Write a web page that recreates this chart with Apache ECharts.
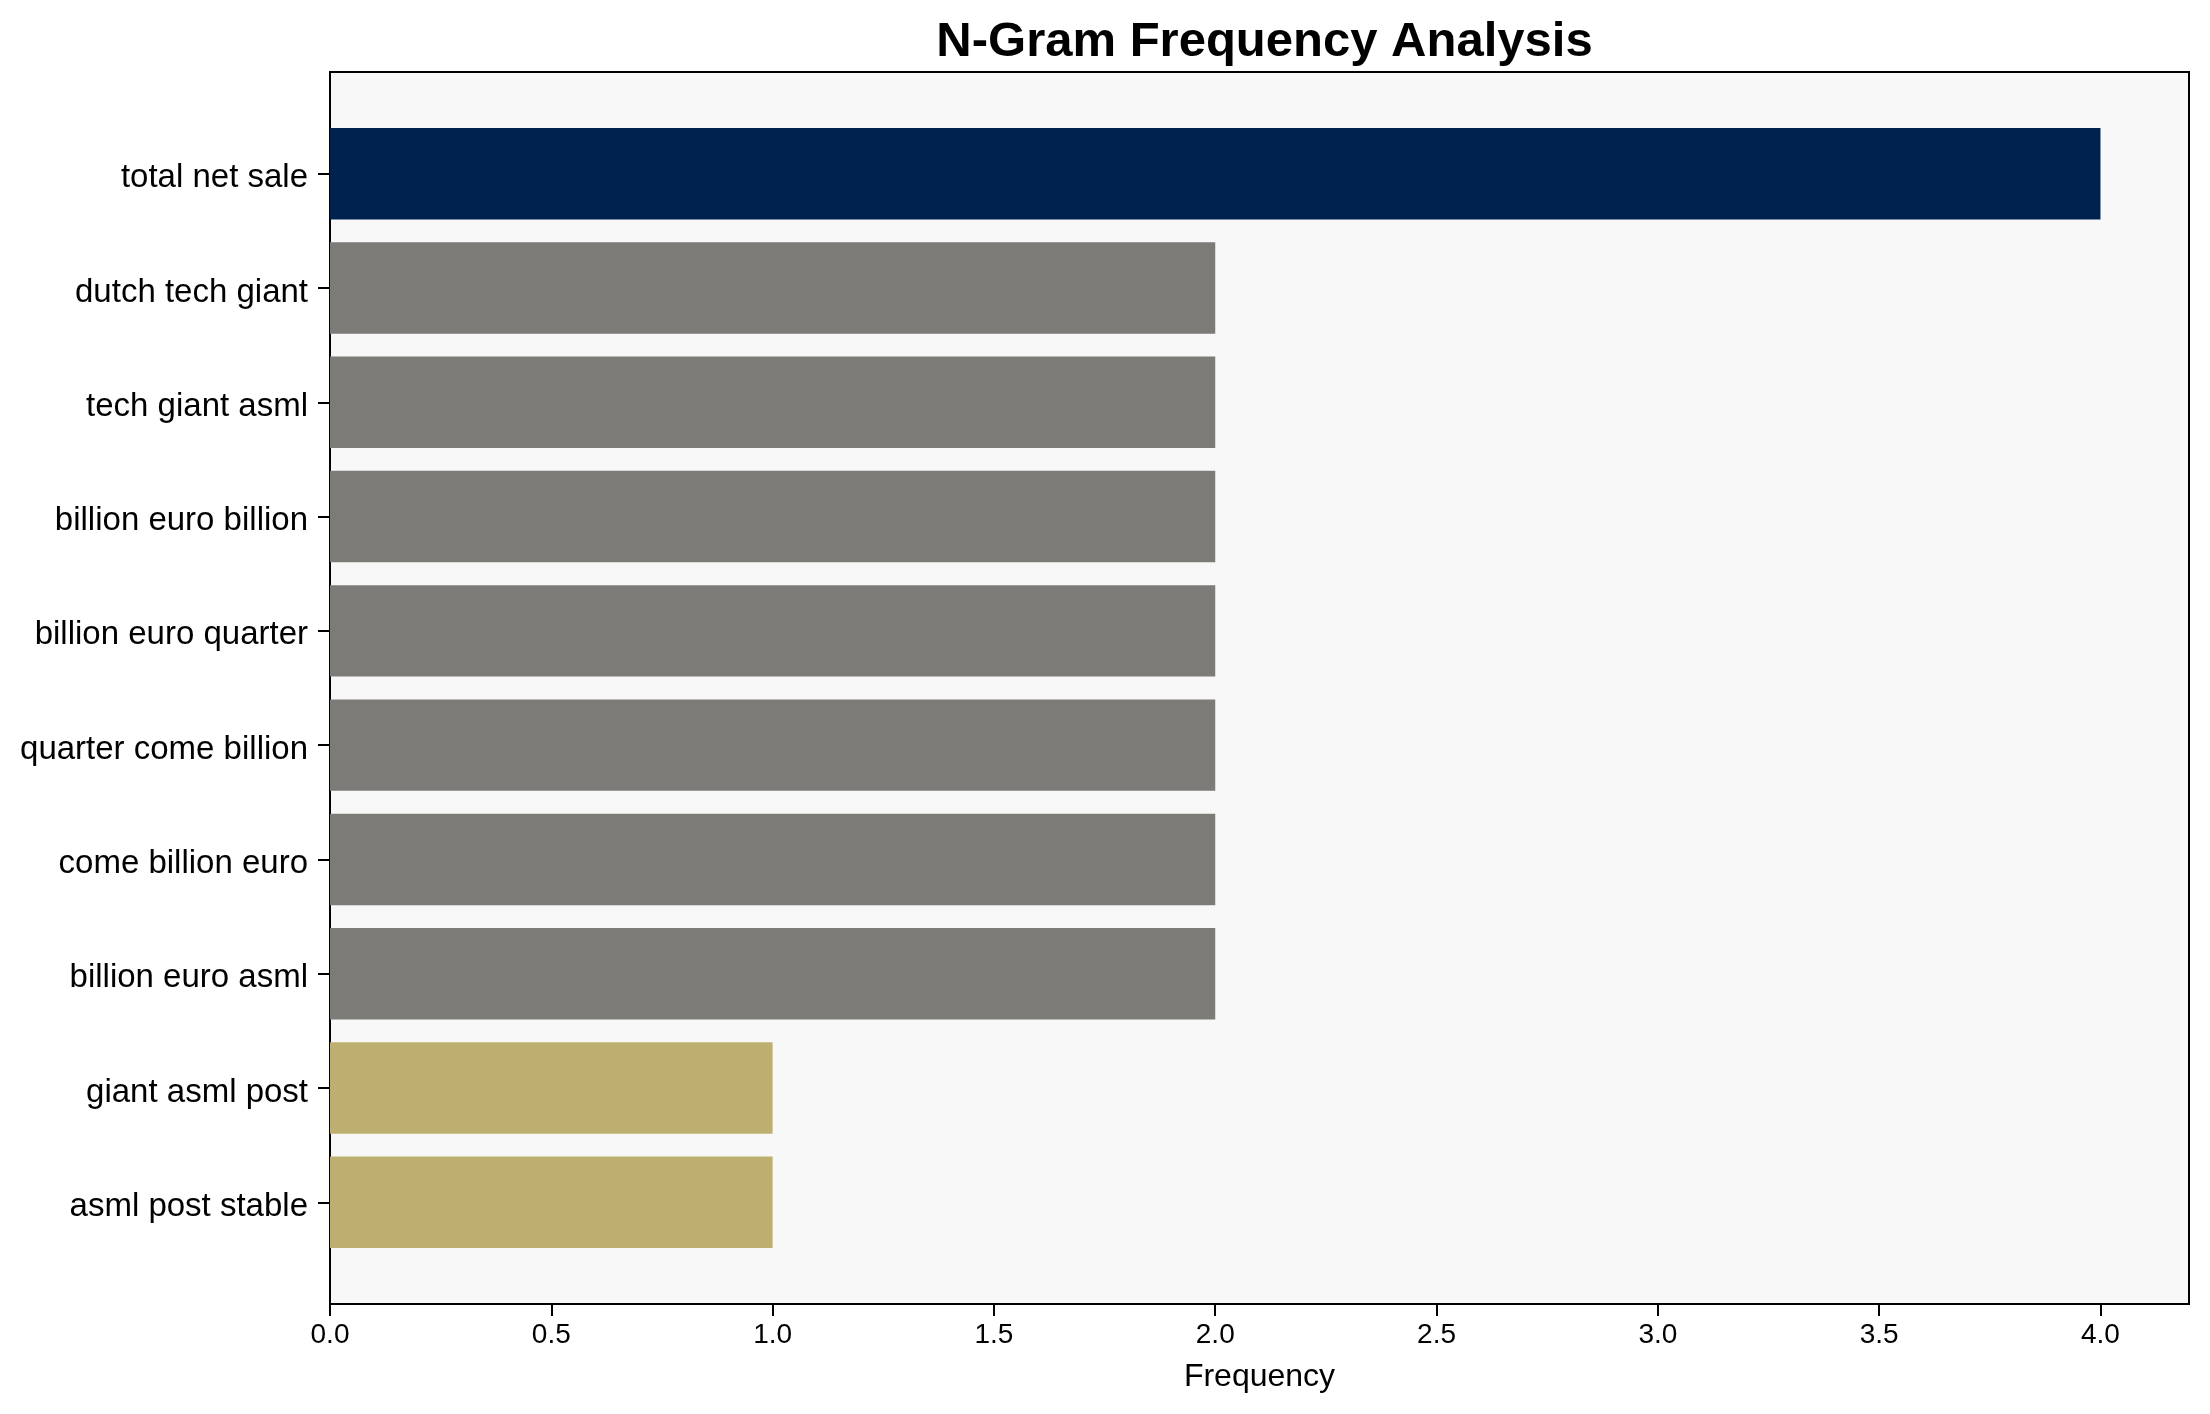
<!DOCTYPE html>
<html>
<head>
<meta charset="utf-8">
<script src="https://cdn.jsdelivr.net/npm/echarts@6/dist/echarts.min.js"></script>
<style>html,body{margin:0;padding:0;background:#fff}#c{width:2210px;height:1414px}</style>
</head>
<body>
<div id="c"></div>
<script>
const categories = ['total net sale','dutch tech giant','tech giant asml','billion euro billion','billion euro quarter','quarter come billion','come billion euro','billion euro asml','giant asml post','asml post stable'];
const frequencies = [4,2,2,2,2,2,2,2,1,1];
const xTicks = [0,0.5,1.0,1.5,2.0,2.5,3.0,3.5,4.0];
const xMax = 4.2;
const colorByValue = {4:'#00224e', 2:'#7c7b78', 1:'#bcaf6f'};

const FONT = 'Liberation Sans, Arial, sans-serif';
const band = 1232 / 10.78;
const pad = (0.89 - 0.5) * band;

const chart = echarts.init(document.getElementById('c'));
chart.setOption({
  animation: false,
  backgroundColor: '#ffffff',
  title: {
    text: 'N-Gram Frequency Analysis',
    left: 1259.5, textAlign: 'center', top: 13,
    textStyle: {fontFamily: FONT, fontWeight: 'bold', fontSize: 49, color: '#000'}
  },
  grid: [
    {left: 330, right: 21, top: 72, bottom: 110, show: true, backgroundColor: '#f8f8f8', borderColor: '#000', borderWidth: 2, z: 0},
    {left: 330, right: 21, top: 72 + pad, bottom: 110 + pad, show: false}
  ],
  xAxis: [
    {
      type: 'value', gridIndex: 0, min: 0, max: xMax,
      name: 'Frequency', nameLocation: 'middle', nameGap: 57,
      nameTextStyle: {fontFamily: FONT, fontSize: 32, color: '#000'},
      axisLine: {show: false},
      splitLine: {show: false},
      axisTick: {show: true, length: 12, lineStyle: {color: '#000', width: 2}, customValues: xTicks},
      axisLabel: {fontFamily: FONT, fontSize: 28, color: '#000', margin: 17, customValues: xTicks,
        formatter: v => Number(v).toFixed(1)}
    },
    {type: 'value', gridIndex: 1, min: 0, max: xMax, show: false}
  ],
  yAxis: [
    {type: 'value', gridIndex: 0, min: 0, max: 1, show: false},
    {
      type: 'category', gridIndex: 1, data: categories, inverse: true,
      axisLine: {show: false},
      axisTick: {show: true, alignWithLabel: true, length: 12, lineStyle: {color: '#000', width: 2}},
      axisLabel: {
        color: '#000', margin: 22,
        formatter: v => '{a|' + v + '}',
        rich: {a: {fontFamily: FONT, fontSize: 33, color: '#000', padding: [9, 0, 0, 0]}}
      },
      splitLine: {show: false}
    }
  ],
  series: [{
    type: 'bar', xAxisIndex: 1, yAxisIndex: 1,
    barWidth: '80%',
    data: frequencies.map(v => ({value: v, itemStyle: {color: colorByValue[v]}})),
    z: 2
  }]
});
</script>
</body>
</html>
